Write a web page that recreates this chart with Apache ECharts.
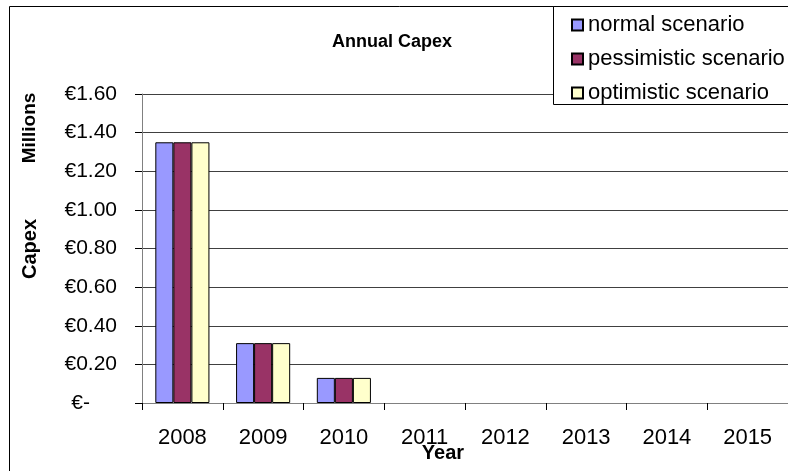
<!DOCTYPE html>
<html>
<head>
<meta charset="utf-8">
<script src="https://cdn.jsdelivr.net/npm/echarts@6/dist/echarts.min.js"></script>
<style>
  html, body { margin: 0; padding: 0; background: #fff; overflow: hidden; }
  #chart { width: 788px; height: 471px; }
</style>
</head>
<body>
<div id="chart"></div>
<script>
// Annual capital expenditure per scenario, in millions of euros
const years = ['2008', '2009', '2010', '2011', '2012', '2013', '2014', '2015'];
const normalScenario      = [1.35, 0.31, 0.13, 0, 0, 0, 0, 0];
const pessimisticScenario = [1.35, 0.31, 0.13, 0, 0, 0, 0, 0];
const optimisticScenario  = [1.35, 0.31, 0.13, 0, 0, 0, 0, 0];
const seriesNames = ['normal scenario', 'pessimistic scenario', 'optimistic scenario'];
const seriesColors = ['#9999FF', '#993366', '#FFFFCC'];

const FONT = '"Liberation Sans", Arial, sans-serif';
const chart = echarts.init(document.getElementById('chart'), null, { renderer: 'canvas' });

const seriesData = [normalScenario, pessimisticScenario, optimisticScenario];

// zero-height bars get no outline so the baseline stays clean
const toBarData = values => values.map(v => (v === 0 ? { value: v, itemStyle: { borderWidth: 0 } } : v));

chart.setOption({
  animation: false,
  backgroundColor: '#ffffff',
  textStyle: { fontFamily: FONT, color: '#000' },
  title: {
    text: 'Annual Capex',
    left: 387, top: 28, textAlign: 'center',
    textStyle: { fontFamily: FONT, fontSize: 18, fontWeight: 'bold', color: '#000' }
  },
  legend: {
    orient: 'vertical',
    left: 566, top: 9,
    itemGap: 12,
    itemWidth: 11, itemHeight: 11,
    icon: 'rect',
    z: 20,
    textStyle: { fontFamily: FONT, fontSize: 22, color: '#000' },
    data: seriesNames
  },
  grid: { left: 142, top: 94, width: 653, bottom: 68, containLabel: false },
  xAxis: {
    type: 'category',
    data: years,
    axisLine: { show: true, lineStyle: { color: '#808080', width: 1 } },
    axisTick: { show: true, length: 7, lineStyle: { color: '#000', width: 1 } },
    axisLabel: { margin: 24, fontFamily: FONT, fontSize: 22, color: '#000' },
    splitLine: { show: false }
  },
  yAxis: {
    type: 'value',
    min: 0, max: 1.6, interval: 0.2,
    axisLine: { show: true, lineStyle: { color: '#808080', width: 1 } },
    axisTick: { show: true, length: 7, lineStyle: { color: '#000', width: 1 } },
    axisLabel: {
      margin: 25, fontFamily: FONT, fontSize: 21, color: '#000',
      formatter: v => (v === 0 ? '{z|€-}' : '€' + v.toFixed(2)),
      rich: { z: { fontFamily: FONT, fontSize: 21, color: '#000', padding: [0, 27, 0, 0] } }
    },
    splitLine: { show: true, lineStyle: { color: '#404040', width: 1 } }
  },
  graphic: [
    { type: 'rect', z: -1, silent: true,
      shape: { x: 9.5, y: 6.5, width: 820, height: 500 },
      style: { fill: 'none', stroke: '#000', lineWidth: 1 } },
    { type: 'rect', z: 10, silent: true,
      shape: { x: 553.5, y: 6.5, width: 300, height: 98 },
      style: { fill: '#fff', stroke: '#000', lineWidth: 1 } },
    { type: 'text', silent: true, x: 30, y: 128, rotation: Math.PI / 2,
      style: { text: 'Millions', font: 'bold 19px ' + FONT, fill: '#000', align: 'center', verticalAlign: 'middle' } },
    { type: 'text', silent: true, x: 30, y: 249, rotation: Math.PI / 2,
      style: { text: 'Capex', font: 'bold 20px ' + FONT, fill: '#000', align: 'center', verticalAlign: 'middle' } },
    { type: 'text', silent: true, x: 443, y: 453,
      style: { text: 'Year', font: 'bold 20px ' + FONT, fill: '#000', align: 'center', verticalAlign: 'middle' } }
  ],
  series: seriesNames.map((name, i) => ({
    name,
    type: 'bar',
    data: toBarData(seriesData[i]),
    barGap: '0%',
    barCategoryGap: '33%',
    itemStyle: { color: seriesColors[i], borderColor: '#000', borderWidth: 1 }
  }))
});
</script>
</body>
</html>
